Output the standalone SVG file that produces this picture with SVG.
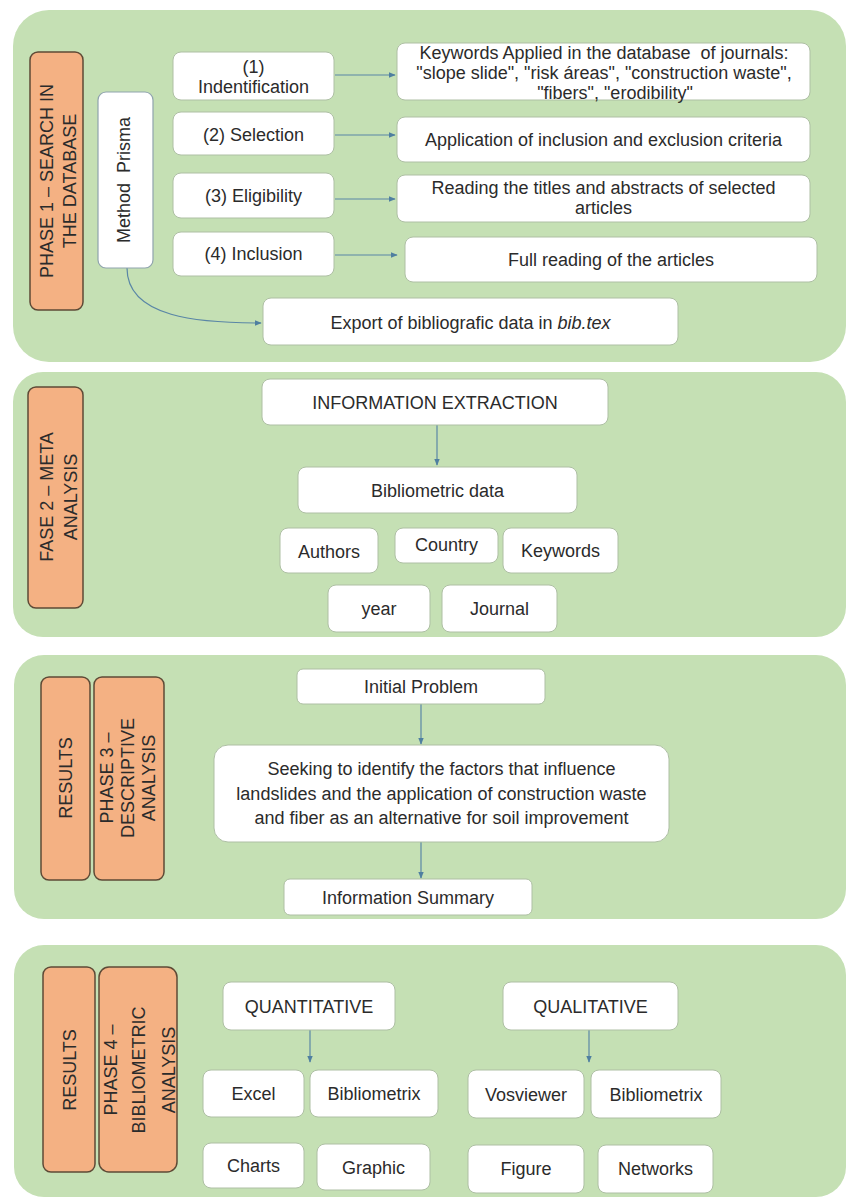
<svg xmlns="http://www.w3.org/2000/svg" width="849" height="1201" viewBox="0 0 849 1201">
<defs>
<marker id="ah" viewBox="0 0 10 10" refX="9" refY="5" markerWidth="6" markerHeight="6" orient="auto"><path d="M0,1 L10,5 L0,9 z" fill="#4f7fa0"/></marker>
</defs>
<style>
.panel{fill:#c5e0b4;}
.lbl{fill:#f4b183;stroke:#5e4a36;stroke-width:1.5;}
.box{fill:#ffffff;stroke:#aebfa4;stroke-width:1;}
.mp{fill:#ffffff;stroke:#8fa3ad;stroke-width:1.2;}
text{font-family:"Liberation Sans",Arial,sans-serif;font-size:18px;fill:#2b2b2b;}
.c{text-anchor:middle;}
.conn{fill:none;stroke:#5a86a6;stroke-width:1.2;marker-end:url(#ah);}
</style>
<rect width="849" height="1201" fill="#ffffff"/>

<g id="panel1">
<rect class="panel" x="13" y="10" width="833" height="352" rx="36"/>
</g>
<g id="panel2">
<rect class="panel" x="13" y="372" width="833" height="265" rx="30"/>
</g>
<g id="panel3">
<rect class="panel" x="14" y="655" width="832" height="264" rx="30"/>
</g>
<g id="panel4">
<rect class="panel" x="14" y="945" width="832" height="252" rx="30"/>
</g>

<g id="connectors">
<path class="conn" d="M335,75 H395"/>
<path class="conn" d="M335,135 H395"/>
<path class="conn" d="M335,199 H395"/>
<path class="conn" d="M335,255 H397"/>
<path class="conn" d="M127,268 C127,318 200,323 261,323"/>
<path class="conn" d="M437,425 V465"/>
<path class="conn" d="M421,704 V744"/>
<path class="conn" d="M421,842 V878"/>
<path class="conn" d="M310,1030 V1062"/>
<path class="conn" d="M589,1030 V1062"/>
</g>

<g id="phase1-label">
<rect class="lbl" x="30" y="52" width="53" height="258" rx="8"/>
<g transform="translate(56.5,181) rotate(-90)"><text class="c"><tspan x="0" y="-4">PHASE 1 – SEARCH IN</tspan><tspan x="0" y="19">THE DATABASE</tspan></text></g>
</g>
<g id="method-prisma">
<rect class="mp" x="98" y="92" width="55" height="176" rx="8"/>
<g transform="translate(125.5,180) rotate(-90)"><text class="c" x="0" y="4">Method&#160; Prisma</text></g>
</g>
<g id="step1">
<rect class="box" x="173" y="52" width="161" height="48" rx="8"/>
<text class="c"><tspan x="253.5" y="72.5">(1)</tspan><tspan x="253.5" y="93">Indentification</tspan></text>
</g>
<g id="step2">
<rect class="box" x="173" y="112" width="161" height="43" rx="8"/>
<text class="c" x="253.5" y="140.5">(2) Selection</text>
</g>
<g id="step3">
<rect class="box" x="173" y="173" width="161" height="45" rx="8"/>
<text class="c" x="253.5" y="201.5">(3) Eligibility</text>
</g>
<g id="step4">
<rect class="box" x="173" y="232" width="161" height="44" rx="8"/>
<text class="c" x="253.5" y="259.5">(4) Inclusion</text>
</g>
<g id="keywords">
<rect class="box" x="397" y="43" width="413" height="57" rx="8"/>
<text class="c"><tspan x="604" y="59">Keywords Applied in the database&#160; of journals:</tspan><tspan x="604" y="79">"slope slide", "risk áreas", "construction waste",</tspan><tspan x="615" y="99">"fibers", "erodibility"</tspan></text>
</g>
<g id="criteria">
<rect class="box" x="397" y="117" width="413" height="45" rx="8"/>
<text class="c" x="603.5" y="146">Application of inclusion and exclusion criteria</text>
</g>
<g id="reading">
<rect class="box" x="397" y="175" width="413" height="47" rx="8"/>
<text class="c"><tspan x="603.5" y="194">Reading the titles and abstracts of selected</tspan><tspan x="603.5" y="214">articles</tspan></text>
</g>
<g id="full-reading">
<rect class="box" x="405" y="237" width="412" height="45" rx="8"/>
<text class="c" x="611" y="265.5">Full reading of the articles</text>
</g>
<g id="export">
<rect class="box" x="263" y="298" width="415" height="47" rx="8"/>
<text class="c" x="470.5" y="329">Export of bibliografic data in <tspan font-style="italic">bib.tex</tspan></text>
</g>

<g id="phase2-label">
<rect class="lbl" x="28" y="387" width="55" height="221" rx="8"/>
<g transform="translate(55.5,497) rotate(-90)"><text class="c"><tspan x="0" y="-3">FASE 2 – META</tspan><tspan x="0" y="21">ANALYSIS</tspan></text></g>
</g>
<g id="info-extraction">
<rect class="box" x="262" y="379" width="346" height="46" rx="8"/>
<text class="c" x="435" y="408.5">INFORMATION EXTRACTION</text>
</g>
<g id="bibliometric-data">
<rect class="box" x="298" y="467" width="279" height="46" rx="8"/>
<text class="c" x="437.5" y="496.5">Bibliometric data</text>
</g>
<g id="authors">
<rect class="box" x="280" y="528" width="98" height="45" rx="8"/>
<text class="c" x="329" y="558">Authors</text>
</g>
<g id="country">
<rect class="box" x="395" y="528" width="103" height="35" rx="8"/>
<text class="c" x="446.5" y="551">Country</text>
</g>
<g id="keywords2">
<rect class="box" x="503" y="528" width="115" height="45" rx="8"/>
<text class="c" x="560.5" y="556.5">Keywords</text>
</g>
<g id="year">
<rect class="box" x="328" y="585" width="102" height="47" rx="8"/>
<text class="c" x="379" y="614.5">year</text>
</g>
<g id="journal">
<rect class="box" x="442" y="585" width="115" height="47" rx="8"/>
<text class="c" x="499.5" y="614.5">Journal</text>
</g>

<g id="results3">
<rect class="lbl" x="41" y="677" width="49" height="203" rx="8"/>
<g transform="translate(65.5,778) rotate(-90)"><text class="c" x="0" y="6.5">RESULTS</text></g>
</g>
<g id="phase3-label">
<rect class="lbl" x="94" y="677" width="70" height="203" rx="8"/>
<g transform="translate(129,778) rotate(-90)"><text class="c"><tspan x="0" y="-16.5">PHASE 3 –</tspan><tspan x="0" y="4.5">DESCRIPTIVE</tspan><tspan x="0" y="25.5">ANALYSIS</tspan></text></g>
</g>
<g id="initial-problem">
<rect class="box" x="297" y="669" width="248" height="35" rx="6"/>
<text class="c" x="421" y="693">Initial Problem</text>
</g>
<g id="seeking">
<rect class="box" x="214" y="745" width="455" height="97" rx="14"/>
<text class="c"><tspan x="441.5" y="774.5">Seeking to identify the factors that influence</tspan><tspan x="441.5" y="799.5">landslides and the application of construction waste</tspan><tspan x="441.5" y="823.5">and fiber as an alternative for soil improvement</tspan></text>
</g>
<g id="info-summary">
<rect class="box" x="284" y="879" width="248" height="36" rx="6"/>
<text class="c" x="408" y="903.5">Information Summary</text>
</g>

<g id="results4">
<rect class="lbl" x="43" y="967" width="52" height="205" rx="8"/>
<g transform="translate(69,1070) rotate(-90)"><text class="c" x="0" y="6.5">RESULTS</text></g>
</g>
<g id="phase4-label">
<rect class="lbl" x="99" y="967" width="78" height="205" rx="10"/>
<g transform="translate(138,1070) rotate(-90)"><text class="c"><tspan x="0" y="-21.5">PHASE 4 –</tspan><tspan x="0" y="6.5">BIBLIOMETRIC</tspan><tspan x="0" y="36.5">ANALYSIS</tspan></text></g>
</g>
<g id="quantitative">
<rect class="box" x="223" y="982" width="172" height="48" rx="8"/>
<text class="c" x="309" y="1012.5">QUANTITATIVE</text>
</g>
<g id="qualitative">
<rect class="box" x="503" y="982" width="175" height="48" rx="8"/>
<text class="c" x="590.5" y="1012.5">QUALITATIVE</text>
</g>
<g id="excel">
<rect class="box" x="203" y="1070" width="101" height="47" rx="8"/>
<text class="c" x="253.5" y="1100">Excel</text>
</g>
<g id="bibliometrix1">
<rect class="box" x="310" y="1070" width="128" height="47" rx="8"/>
<text class="c" x="374" y="1100">Bibliometrix</text>
</g>
<g id="charts">
<rect class="box" x="203" y="1143" width="101" height="45" rx="8"/>
<text class="c" x="253.5" y="1171.5">Charts</text>
</g>
<g id="graphic">
<rect class="box" x="317" y="1144" width="113" height="46" rx="8"/>
<text class="c" x="373.5" y="1173.5">Graphic</text>
</g>
<g id="vosviewer">
<rect class="box" x="468" y="1070" width="116" height="48" rx="8"/>
<text class="c" x="526" y="1100.5">Vosviewer</text>
</g>
<g id="bibliometrix2">
<rect class="box" x="591" y="1070" width="130" height="48" rx="8"/>
<text class="c" x="656" y="1100.5">Bibliometrix</text>
</g>
<g id="figure">
<rect class="box" x="468" y="1145" width="116" height="48" rx="8"/>
<text class="c" x="526" y="1174.5">Figure</text>
</g>
<g id="networks">
<rect class="box" x="598" y="1145" width="115" height="48" rx="8"/>
<text class="c" x="655.5" y="1174.5">Networks</text>
</g>
</svg>
